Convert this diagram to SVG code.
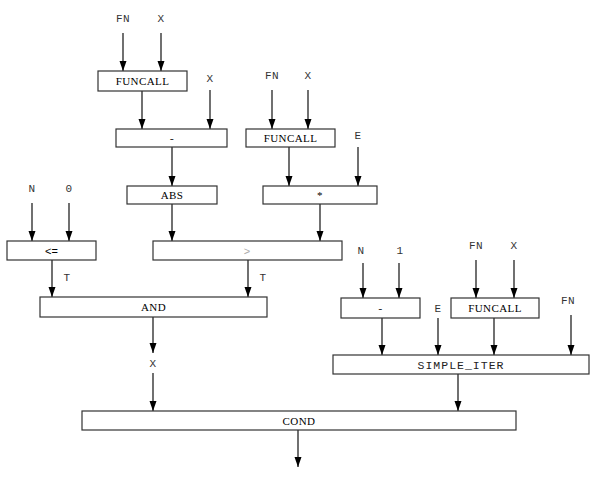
<svg xmlns="http://www.w3.org/2000/svg" width="604" height="482" viewBox="0 0 604 482">
<defs>
<marker id="ah" markerUnits="userSpaceOnUse" markerWidth="10" markerHeight="8" refX="10" refY="3.5" orient="auto">
<path d="M0,0 L10,3.5 L0,7 Z" fill="#000"/>
</marker>
<style>
.box{fill:#fff;stroke:#333;stroke-width:1.2}
.c line{stroke:#111;stroke-width:1.2;marker-end:url(#ah)}
.serif{font-family:"Liberation Serif","Times New Roman",serif;font-size:11px;letter-spacing:0.4px;text-anchor:middle;fill:#000}
.mono{font-family:"Liberation Mono","Courier New",monospace;font-size:11px;letter-spacing:0.5px;text-anchor:middle;fill:#222}
.sans{font-family:"Liberation Sans",Arial,sans-serif;font-size:11px;text-anchor:middle;fill:#000}
.lbl{font-family:"Liberation Mono","Courier New",monospace;font-size:11px;letter-spacing:0.4px;text-anchor:middle;fill:#333}
</style>
</defs>
<rect width="604" height="482" fill="#fff"/>

<g id="labels">
<text class="lbl" x="123" y="22">FN</text>
<text class="lbl" x="161" y="22">X</text>
<text class="lbl" x="210" y="82">X</text>
<text class="lbl" x="272" y="79">FN</text>
<text class="lbl" x="308" y="79">X</text>
<text class="lbl" x="358" y="139">E</text>
<text class="lbl" x="32" y="192">N</text>
<text class="lbl" x="69" y="192">0</text>
<text class="lbl" x="67" y="281">T</text>
<text class="lbl" x="263" y="281">T</text>
<text class="lbl" x="361" y="254">N</text>
<text class="lbl" x="400" y="254">1</text>
<text class="lbl" x="476" y="249">FN</text>
<text class="lbl" x="514" y="249">X</text>
<text class="lbl" x="438" y="312">E</text>
<text class="lbl" x="568" y="304">FN</text>
<text class="lbl" x="153" y="367">X</text>
</g>

<g id="connectors" class="c">
<line x1="123" y1="33" x2="123" y2="71"/>
<line x1="161" y1="33" x2="161" y2="71"/>
<line x1="142" y1="91" x2="142" y2="129"/>
<line x1="210" y1="90" x2="210" y2="129"/>
<line x1="272" y1="90" x2="272" y2="129"/>
<line x1="308" y1="90" x2="308" y2="129"/>
<line x1="172" y1="147" x2="172" y2="186"/>
<line x1="289" y1="147" x2="289" y2="186"/>
<line x1="358" y1="147" x2="358" y2="186"/>
<line x1="32" y1="203" x2="32" y2="241"/>
<line x1="69" y1="203" x2="69" y2="241"/>
<line x1="172" y1="204" x2="172" y2="241"/>
<line x1="320" y1="204" x2="320" y2="241"/>
<line x1="52" y1="260" x2="52" y2="297"/>
<line x1="248" y1="260" x2="248" y2="297"/>
<line x1="363" y1="263" x2="363" y2="298"/>
<line x1="399" y1="263" x2="399" y2="298"/>
<line x1="476" y1="260" x2="476" y2="298"/>
<line x1="514" y1="260" x2="514" y2="298"/>
<line x1="382" y1="318" x2="382" y2="355"/>
<line x1="438" y1="318" x2="438" y2="355"/>
<line x1="494" y1="318" x2="494" y2="355"/>
<line x1="571" y1="315" x2="571" y2="355"/>
<line x1="153" y1="317" x2="153" y2="353"/>
<line x1="153" y1="373" x2="153" y2="411"/>
<line x1="458" y1="374" x2="458" y2="411"/>
<line x1="298" y1="430" x2="298" y2="467"/>
</g>

<g id="funcall1"><rect class="box" x="98" y="71" width="89" height="20"/><text class="serif" x="142.5" y="85">FUNCALL</text></g>
<g id="minus1"><rect class="box" x="116" y="129" width="111" height="18"/><text class="mono" x="172" y="142">-</text></g>
<g id="funcall2"><rect class="box" x="246" y="129" width="89" height="18"/><text class="serif" x="290.5" y="142">FUNCALL</text></g>
<g id="abs"><rect class="box" x="127" y="186" width="90" height="18"/><text class="serif" x="172" y="199">ABS</text></g>
<g id="mul"><rect class="box" x="263" y="186" width="114" height="18"/><text class="serif" x="320" y="199">*</text></g>
<g id="le"><rect class="box" x="7" y="241" width="89" height="19"/><text class="sans" x="51.5" y="255">&lt;=</text></g>
<g id="gt"><rect class="box" x="153" y="241" width="189" height="19"/><text class="sans" x="247" y="255" fill="#aaa" style="fill:#aaa">&gt;</text></g>
<g id="and"><rect class="box" x="40" y="297" width="227" height="20"/><text class="serif" x="153.5" y="311">AND</text></g>
<g id="minus2"><rect class="box" x="341" y="298" width="79" height="20"/><text class="mono" x="380.5" y="312">-</text></g>
<g id="funcall3"><rect class="box" x="451" y="298" width="88" height="20"/><text class="serif" x="495" y="312">FUNCALL</text></g>
<g id="simple_iter"><rect class="box" x="333" y="355" width="256" height="19"/><text class="mono" x="461" y="369" style="font-size:11.5px;letter-spacing:1px">SIMPLE_ITER</text></g>
<g id="cond"><rect class="box" x="82" y="411" width="434" height="19"/><text class="serif" x="299" y="425">COND</text></g>
</svg>
